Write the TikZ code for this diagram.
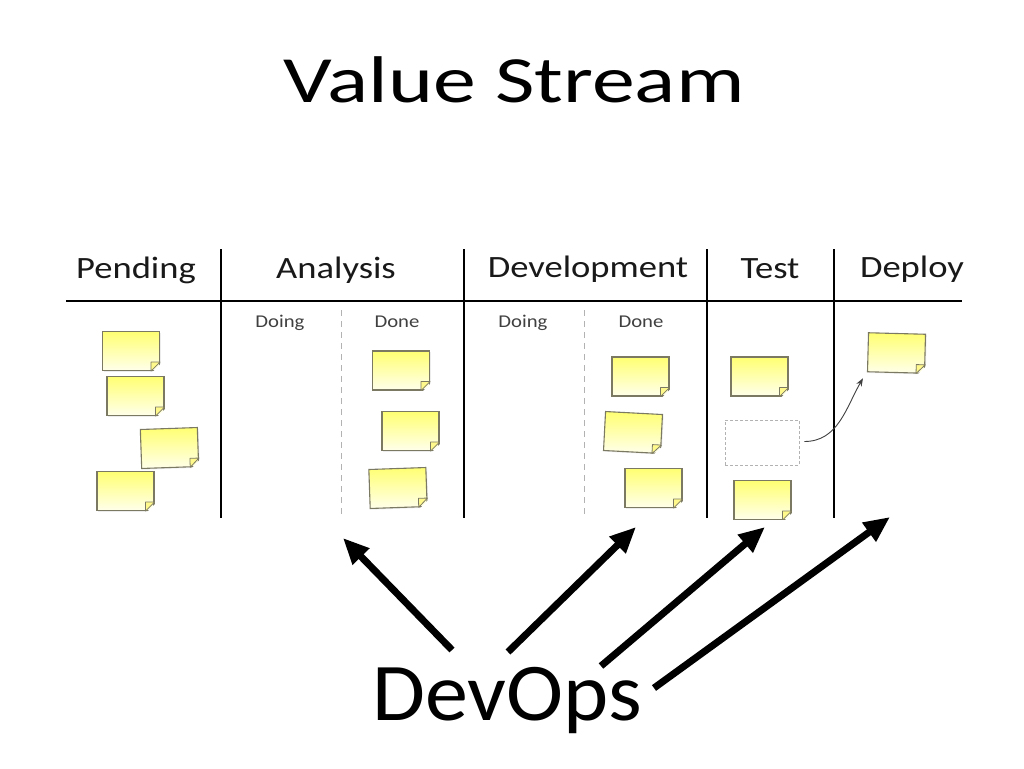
\documentclass[tikz,border=0pt]{standalone}
\usepackage{fontspec}
\setmainfont{Carlito}
\usetikzlibrary{arrows.meta,calc,shadows}
\tikzset{
  boardline/.style={line width=2.6pt, black},
  subline/.style={line width=1pt, gray!60, dash pattern=on 6pt off 5pt},
  hdr/.style={font=\fontsize{31}{34}\selectfont, text=black!90, inner sep=0pt, xscale=1.18},
  subhdr/.style={font=\fontsize{18}{20}\selectfont, text=black!75, inner sep=0pt, xscale=1.15},
  note/.style={minimum width=57pt, minimum height=39pt, inner sep=0pt,
    draw=black!65!yellow!60!gray, line width=1.1pt,
    top color=yellow!55, bottom color=yellow!8,
    drop shadow={opacity=0.15, shadow xshift=1.2pt, shadow yshift=-1.2pt}},
  flap/.style={fill=yellow!45, draw=black!65!yellow!60!gray, line width=0.8pt, line join=round},
  bigarrow/.style={line width=7pt, black, -{Triangle[length=26pt,width=22pt]}},
  movearrow/.style={line width=0.9pt, black!75, -{Stealth[length=8pt,width=6pt]}},
}
\newcommand\sticky[4]{%
  \node[note, rotate=#4] (#1) at (#2,#3) {};
  \fill[white] ($(#1.south east)+(2,2)$) -- ($(#1.south east)!9pt!(#1.south west)+(0,2.5)$) -- ($(#1.south east)!9pt!(#1.north east)+(2.5,0)$) -- cycle;
  \draw[flap] ($(#1.south east)!9pt!(#1.south west)$) -- ($(#1.south east)!9pt!(#1.north east)$)
     -- ($($(#1.south east)!9pt!(#1.south west)$)+($(#1.south east)!9pt!(#1.north east)$)-(#1.south east)$) -- cycle;
}
\begin{document}
\begin{tikzpicture}[x=1pt,y=-1pt]
\useasboundingbox[fill=white] (0,0) rectangle (1024,768);

% title
\node[font=\fontsize{66}{70}\selectfont, inner sep=0pt, xscale=1.3] (title) at (514,80) {Value Stream};

% board lines
\draw[boardline] (66,301) -- (962,301);
\foreach \x/\n in {221/v1,464/v2,707/v3,834/v4}{
  \coordinate (\n t) at (\x,249);
  \coordinate (\n b) at (\x,518);
  \draw[boardline] (\n t) -- (\n b);
}
\coordinate (d1t) at (341,310); \coordinate (d1b) at (341,518);
\coordinate (d2t) at (584,310); \coordinate (d2b) at (584,518);
\draw[subline] (d1t) -- (d1b);
\draw[subline] (d2t) -- (d2b);

% headers
\node[hdr] (hPending) at (136,270) {Pending};
\node[hdr] (hAnalysis) at (336,270) {Analysis};
\node[hdr] (hDev) at (588,269) {Development};
\node[hdr] (hTest) at (770,269) {Test};
\node[hdr] (hDeploy) at (912,269) {Deploy};
\node[subhdr] (sDoing1) at (280,323) {Doing};
\node[subhdr] (sDone1) at (397,322) {Done};
\node[subhdr] (sDoing2) at (523,323) {Doing};
\node[subhdr] (sDone2) at (641,322) {Done};

% sticky notes
\sticky{p1}{131}{351}{0}
\sticky{p2}{135.5}{396}{0}
\sticky{p3}{169.5}{448}{2}
\sticky{p4}{125.5}{491}{0}
\sticky{a1}{401}{370.5}{0}
\sticky{a2}{410.5}{431}{0}
\sticky{a3}{398}{488}{2}
\sticky{dv1}{640.5}{376.5}{0}
\sticky{dv2}{633}{432.5}{-3}
\sticky{dv3}{653.5}{488}{0}
\sticky{t1}{759.5}{376.5}{0}
\begin{scope}
\clip (709,470) rectangle (832,519);
\sticky{t3}{762.5}{500}{0}
\end{scope}
\sticky{dep}{896.5}{353}{-1.5}
\node[draw=gray!60, dash pattern=on 3pt off 2pt, line width=0.8pt, minimum width=74pt, minimum height=45pt, inner sep=0pt] (slot) at (762,442.5) {};
\draw[movearrow] (slot.east) ++(5,-1) coordinate (ms) to[out=0,in=-120] ($(dep.south west)+(-4,6)$) coordinate (me);

% DevOps
\node[font=\fontsize{82}{86}\selectfont, inner sep=0pt, xscale=1.05] (devops) at (507,700) {DevOps};
\coordinate (s1) at (452,650); \coordinate (e1) at (343,538);
\coordinate (s2) at (508,652); \coordinate (e2) at (636,527);
\coordinate (s3) at (601,666); \coordinate (e3) at (765,527);
\coordinate (s4) at (654,688); \coordinate (e4) at (890,517);
\draw[bigarrow] (s1) -- (e1);
\draw[bigarrow] (s2) -- (e2);
\draw[bigarrow] (s3) -- (e3);
\draw[bigarrow] (s4) -- (e4);
\end{tikzpicture}
\end{document}
